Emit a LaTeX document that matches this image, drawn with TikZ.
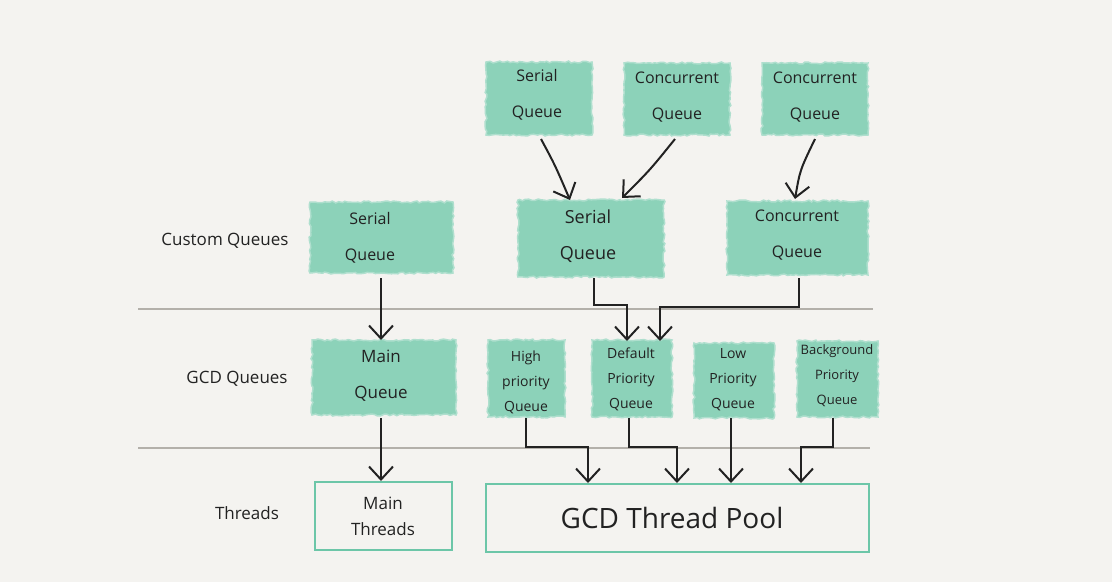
\documentclass[tikz,border=0pt]{standalone}
\usepackage{fontspec}
\setmainfont{Open Sans}
\usetikzlibrary{arrows.meta,decorations.pathmorphing}
\definecolor{bg}{HTML}{F4F3F0}
\definecolor{qgreen}{HTML}{8CD2B9}
\definecolor{sep}{HTML}{B3B0AA}
\definecolor{tgreen}{HTML}{6CC6A8}
\definecolor{ink}{HTML}{222222}
\tikzset{
  x=1pt,y=-1pt,
  qbox/.style={fill=qgreen,draw=qgreen!70!white,line width=1.5pt,
    decorate,decoration={random steps,segment length=3pt,amplitude=1pt}},
  tbox/.style={draw=tgreen,line width=2pt},
  qtext/.style={font=\fontsize{16}{36}\selectfont,text=ink,align=center},
  ptext/.style={font=\fontsize{14}{17}\selectfont,text=ink,align=center},
  lbl/.style={font=\fontsize{17}{20}\selectfont,text=ink},
  conn/.style={draw=ink,line width=2pt,-{Straight Barb[length=13pt,width=24pt,line width=2pt]}},
  sepline/.style={draw=sep,line width=2pt}
}
\begin{document}
\begin{tikzpicture}
\fill[bg] (0,0) rectangle (1112,582);
\useasboundingbox (0,0) rectangle (1112,582);
% separators
\draw[sepline] (138,309) -- (873,309);
\draw[sepline] (138,448) -- (870,448);
% row labels
\node[lbl] (lc) at (225,241) {Custom Queues};
\node[lbl] (lg) at (237,379) {GCD Queues};
\node[lbl] (lt) at (247,513) {Threads};
% top row
\path[qbox] (486,62) rectangle (592,135);
\node[qtext] (s1) at (537,95) {Serial\\Queue};
\path[qbox] (624,63) rectangle (730,135);
\node[qtext] (c1) at (677,97) {Concurrent\\Queue};
\path[qbox] (762,63) rectangle (868,135);
\node[qtext] (c2) at (815,97) {Concurrent\\Queue};
% custom row
\path[qbox] (310,202) rectangle (453,273);
\node[qtext] (sl) at (370,237.5) {Serial\\Queue};
\path[qbox] (518,200) rectangle (664,277);
\node[qtext,font=\fontsize{18}{36}\selectfont] (sm) at (588,236) {Serial\\Queue};
\path[qbox] (727,201) rectangle (868,275);
\node[qtext] (cr) at (797,235) {Concurrent\\Queue};
% GCD row
\path[qbox] (312,340) rectangle (456,415);
\node[qtext,font=\fontsize{17}{36}\selectfont] (mq) at (381,376) {Main\\Queue};
\path[qbox] (488,340) rectangle (565,417);
\node[ptext,font=\fontsize{14}{25}\selectfont] (hq) at (526,382) {High\\priority\\Queue};
\path[qbox] (592,340) rectangle (672,417);
\node[ptext,font=\fontsize{14}{25}\selectfont] (dq) at (631,379) {Default\\Priority\\Queue};
\path[qbox] (694,343) rectangle (774,418);
\node[ptext,font=\fontsize{14}{25}\selectfont] (lq) at (733,380) {Low\\Priority\\Queue};
\path[qbox] (797,341) rectangle (878,417);
\node[ptext,font=\fontsize{13}{25}\selectfont] (bq) at (837,376) {Background\\Priority\\Queue};
% thread row
\draw[tbox] (315,482) rectangle (452,550);
\node[qtext,font=\fontsize{17}{26}\selectfont] (mt) at (383,516) {Main\\Threads};
\draw[tbox] (486,484) rectangle (869,552);
\node[qtext,font=\fontsize{28}{30}\selectfont] (gp) at (672,518) {GCD Thread Pool};
% anchor coordinates
\coordinate (s1b) at (541,139);
\coordinate (smt1) at (570,200);
\coordinate (c1b) at (675,139);
\coordinate (smt2) at (622,198);
\coordinate (c2b) at (815,139);
\coordinate (crt) at (795,199);
\coordinate (slb) at (381,278);
\coordinate (mqt) at (381,340);
\coordinate (smb) at (594,278);
\coordinate (dqt1) at (627,341);
\coordinate (crb) at (799,278);
\coordinate (dqt2) at (660,341);
\coordinate (mqb) at (381,418);
\coordinate (mtt) at (381,481);
\coordinate (hqb) at (526,418);
\coordinate (gp1) at (588,483);
\coordinate (dqb) at (629,418);
\coordinate (gp2) at (677,483);
\coordinate (lqb) at (731,418);
\coordinate (gp3) at (731,483);
\coordinate (bqb) at (833,418);
\coordinate (gp4) at (801,483);
% connectors
\draw[conn] (s1b) .. controls (555,165) .. (smt1);
\draw[conn] (c1b) .. controls (650,170) .. (smt2);
\draw[conn] (c2b) .. controls (800,170) .. (crt);
\draw[conn] (slb) -- (mqt);
\draw[conn] (smb) |- (627,305) -- (dqt1);
\draw[conn] (crb) |- (660,307) -- (dqt2);
\draw[conn] (mqb) -- (mtt);
\draw[conn] (hqb) |- (588,447) -- (gp1);
\draw[conn] (dqb) |- (677,447) -- (gp2);
\draw[conn] (lqb) -- (gp3);
\draw[conn] (bqb) |- (801,447) -- (gp4);
\end{tikzpicture}
\end{document}
